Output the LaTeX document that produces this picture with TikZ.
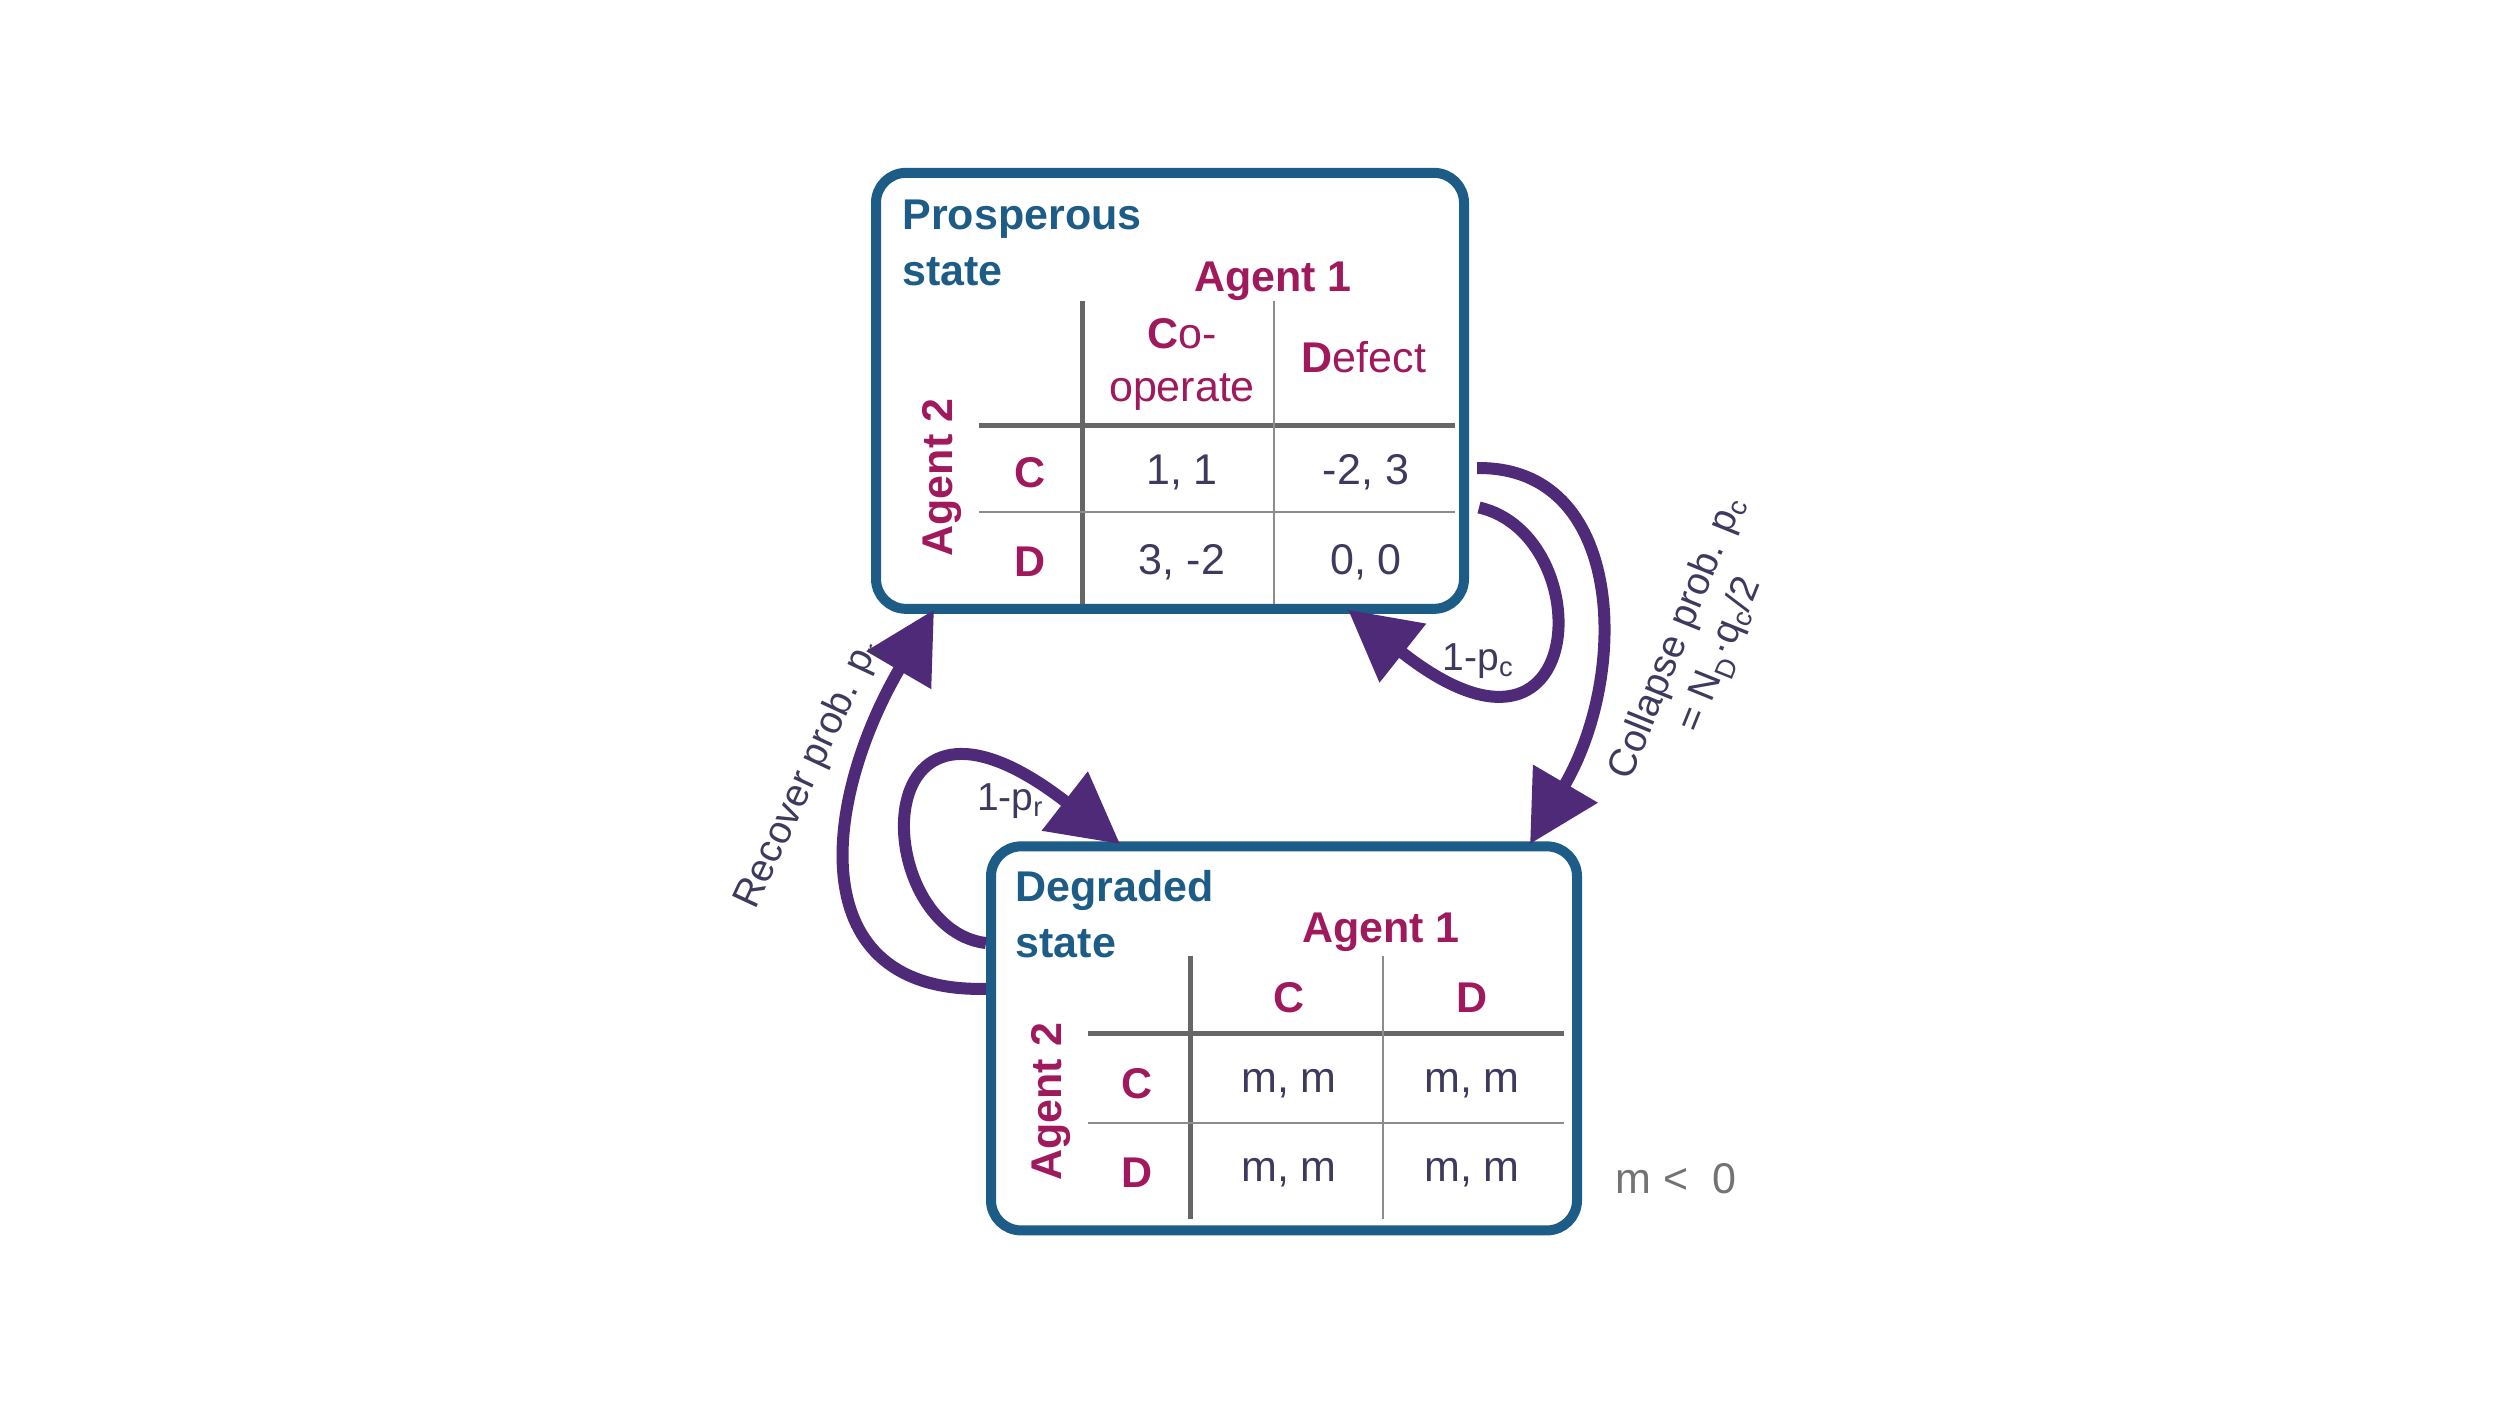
\documentclass[tikz,border=0pt]{standalone}
\usepackage{fontspec}
\setmainfont{Liberation Sans}
\usetikzlibrary{arrows.meta}
\definecolor{boxc}{HTML}{1D5C87}
\definecolor{mag}{HTML}{A0195C}
\definecolor{valc}{HTML}{3E3A5E}
\definecolor{arr}{HTML}{4E2A78}
\begin{document}
\begin{tikzpicture}[x=1pt,y=-1pt,
  box/.style={draw=boxc,line width=10pt,rounded corners=30pt},
  ttl/.style={text=boxc,font=\fontsize{43}{56}\selectfont\bfseries,align=left,anchor=west},
  hd/.style={text=mag,font=\fontsize{43}{52}\selectfont\bfseries},
  hdn/.style={text=mag,font=\fontsize{43}{53}\selectfont,align=center},
  val/.style={text=valc,font=\fontsize{43}{52}\selectfont},
  thick line/.style={draw=black!60,line width=5pt},
  thin line/.style={draw=black!45,line width=1.8pt},
  conn/.style={draw=arr,line width=12pt,-{Triangle[length=70pt,width=72pt]}},
  lab/.style={text=valc,font=\fontsize{39}{46}\selectfont}]
\useasboundingbox (0,0) rectangle (2500,1406);
\begin{scope}[y=-1.065pt,yshift=8pt]
% top box
\node[box,minimum width=588pt,minimum height=436pt] (top) at (1170,374.5) {};
\node[ttl] (pt) at (899,236) {Prosperous\\state};
\node[hd] (a1t) at (1273,272) {Agent 1};
\node[hd,rotate=90] (a2t) at (942,456) {Agent 2};
\coordinate (tv1a) at (1082,290); \coordinate (tv1b) at (1082,575);
\coordinate (tv2a) at (1274,290); \coordinate (tv2b) at (1274,575);
\coordinate (th1a) at (979,407); \coordinate (th1b) at (1455,407);
\coordinate (th2a) at (979,488); \coordinate (th2b) at (1455,488);
\draw[thick line] (tv1a) -- (tv1b);
\draw[thick line] (th1a) -- (th1b);
\draw[thin line] (tv2a) -- (tv2b);
\draw[thin line] (th2a) -- (th2b);
\node[hdn] (tco) at (1182,350) {\textbf{C}o-\\operate};
\node[hdn] (tdef) at (1364,343) {\textbf{D}efect};
\node[hd] (trc) at (1030,451) {C};
\node[hd] (trd) at (1030,535) {D};
\node[val] (t11) at (1182,451) {1, 1};
\node[val] (t12) at (1366,451) {-2, 3};
\node[val] (t21) at (1182,535) {3, -2};
\node[val] (t22) at (1366,535) {0, 0};
% bottom box
\node[box,minimum width=586pt,minimum height=384pt] (bot) at (1284,982.5) {};
\node[ttl] (dt) at (1012,866) {Degraded\\state};
\node[hd] (a1b) at (1381,883) {Agent 1};
\node[hd,rotate=90] (a2b) at (1051,1042) {Agent 2};
\coordinate (bv1a) at (1190,905); \coordinate (bv1b) at (1190,1152);
\coordinate (bv2a) at (1383,905); \coordinate (bv2b) at (1383,1152);
\coordinate (bh1a) at (1088,978); \coordinate (bh1b) at (1564,978);
\coordinate (bh2a) at (1088,1062); \coordinate (bh2b) at (1564,1062);
\draw[thick line] (bv1a) -- (bv1b);
\draw[thick line] (bh1a) -- (bh1b);
\draw[thin line] (bv2a) -- (bv2b);
\draw[thin line] (bh2a) -- (bh2b);
\node[hd] (bcc) at (1289,944) {C};
\node[hd] (bcd) at (1472,944) {D};
\node[hd] (brc) at (1137,1025) {C};
\node[hd] (brd) at (1137,1109) {D};
\node[val] (b11) at (1289,1025) {m, m};
\node[val] (b12) at (1472,1025) {m, m};
\node[val] (b21) at (1289,1109) {m, m};
\node[val] (b22) at (1472,1109) {m, m};
\node[text=black!55,font=\fontsize{43}{50}\selectfont] (mlt) at (1676,1114) {m <~ 0};
% connectors
\coordinate (c1s) at (1477,447); \coordinate (c1e) at (1530,800);
\draw[conn] (c1s) .. controls (1625,445) and (1630,640) .. (c1e);
\coordinate (c2s) at (1479,484); \coordinate (c2e) at (1348,580);
\draw[conn] (c2s) .. controls (1600,510) and (1590,760) .. (c2e);
\coordinate (c3s) at (986,936); \coordinate (c3e) at (934,580);
\draw[conn] (c3s) .. controls (800,940) and (822,760) .. (c3e);
\coordinate (c4s) at (986,893); \coordinate (c4e) at (1120,800);
\draw[conn] (c4s) .. controls (870,880) and (860,610) .. (c4e);
\node[lab] (l1) at (1478,628) {1-p\textsubscript{c}};
\node[lab] (l2) at (1010,760) {1-p\textsubscript{r}};
\node[lab,rotate=65] (l3) at (808,735) {Recover prob. p\textsubscript{r}};
\node[lab,rotate=68,align=center] (l4) at (1700,615) {Collapse prob. p\textsubscript{c}\\= N\textsubscript{D}·q\textsubscript{c}/2};
\end{scope}
\end{tikzpicture}
\end{document}
